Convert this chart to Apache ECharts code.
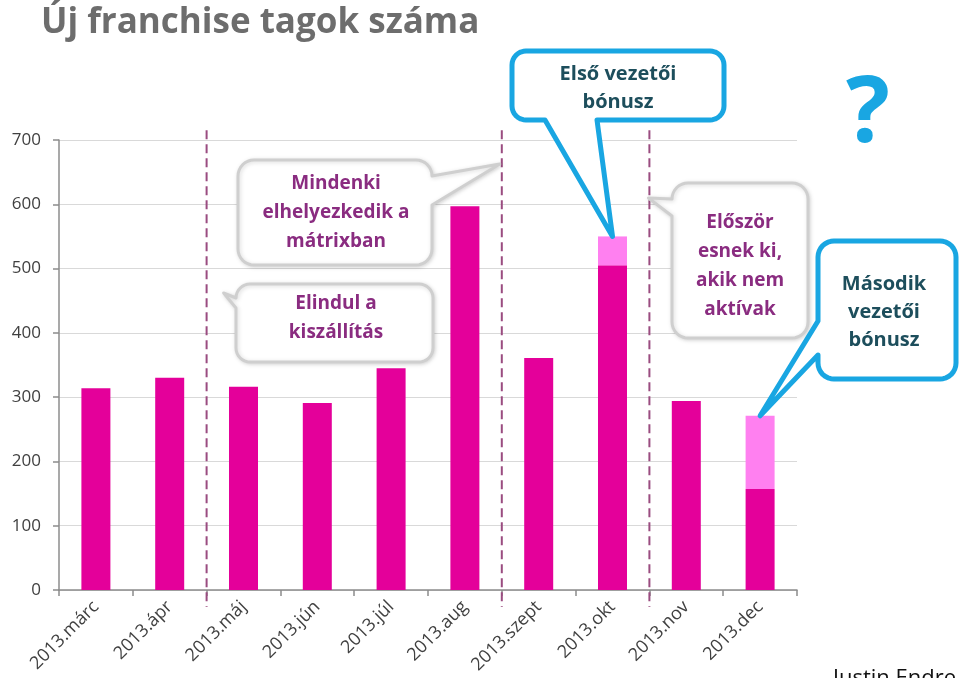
<!DOCTYPE html>
<html><head><meta charset="utf-8">
<script src="https://cdn.jsdelivr.net/npm/echarts@6/dist/echarts.min.js"></script>
<style>html,body{margin:0;padding:0;background:#fff}#c{width:960px;height:678px}</style>
</head><body><div id="c"></div>
<script>
// ---- data ----
const categories = ['2013.márc','2013.ápr','2013.máj','2013.jún','2013.júl','2013.aug','2013.szept','2013.okt','2013.nov','2013.dec'];
const newMembers = [314, 330, 316, 291, 345, 597, 361, 505, 294, 157];
const bonusMembers = ['-', '-', '-', '-', '-', '-', '-', 45, '-', 114];
const yMin = 0, yMax = 700, yInterval = 100;
const phaseStarts = [2, 6, 8]; // category index where a dashed divider sits before
const titleText = 'Új franchise tagok száma';
const note1 = 'Első vezetői\nbónusz';
const note2 = 'Második\nvezetői\nbónusz';
const note3 = 'Mindenki\nelhelyezkedik a\nmátrixban';
const note4 = 'Elindul a\nkiszállítás';
const note5 = 'Először\nesnek ki,\nakik nem\naktívak';
const author = 'Justin Endre';

const FONT = '"Open Sans", "DejaVu Sans", sans-serif';
const BLUE = '#19A6E2';
const chart = echarts.init(document.getElementById('c'), null, {renderer: 'canvas'});

chart.setOption({
  animation: false,
  title: {text: titleText, left: 36, top: 1,
    textStyle: {fontSize: 35, fontWeight: 'bold', color: '#6d6d6d', fontFamily: FONT}},
  grid: {left: 59, right: 163, top: 140, bottom: 88},
  xAxis: {
    type: 'category', data: categories, boundaryGap: true,
    axisLine: {lineStyle: {color: '#8c8c8c', width: 1.5}},
    axisTick: {show: true, length: 6, lineStyle: {color: '#8c8c8c', width: 1.5}},
    axisLabel: {rotate: 45, fontSize: 18, color: '#404040', fontFamily: FONT, margin: 14, interval: 0}
  },
  yAxis: {
    type: 'value', min: yMin, max: yMax, interval: yInterval,
    axisLine: {show: true, lineStyle: {color: '#8c8c8c', width: 1.5}},
    axisTick: {show: true, length: 6, lineStyle: {color: '#8c8c8c', width: 1.5}},
    axisLabel: {fontSize: 17, color: '#404040', fontFamily: FONT, margin: 18},
    splitLine: {lineStyle: {color: '#d9d9d9', width: 1}}
  },
  series: [
    {type: 'bar', stack: 'a', data: newMembers, barWidth: 29, itemStyle: {color: '#E4009A'}},
    {type: 'bar', stack: 'a', data: bonusMembers, barWidth: 29, itemStyle: {color: '#FF80F0'}}
  ]
});

// rounded-rect callout outline as polygon points (clockwise), with a tail on one edge
function calloutPoints(x, y, w, h, r, t) {
  const pts = [];
  const arc = (cx, cy, a0, a1) => {
    const n = 8;
    for (let k = 0; k <= n; k++) {
      const a = a0 + (a1 - a0) * k / n;
      pts.push([cx + r * Math.cos(a), cy + r * Math.sin(a)]);
    }
  };
  const tip = t.tip;
  const PI = Math.PI;
  pts.push([x + r, y]);
  if (t.edge === 'top') pts.push([t.a, y], tip, [t.b, y]);
  arc(x + w - r, y + r, -PI / 2, 0);
  if (t.edge === 'right') pts.push([x + w, t.a], tip, [x + w, t.b]);
  arc(x + w - r, y + h - r, 0, PI / 2);
  if (t.edge === 'bottom') pts.push([t.b, y + h], tip, [t.a, y + h]);
  arc(x + r, y + h - r, PI / 2, PI);
  if (t.edge === 'left') pts.push([x, t.b], tip, [x, t.a]);
  arc(x + r, y + r, PI, PI * 1.5);
  return pts;
}

function build() {
  const px = (i, v) => chart.convertToPixel({gridIndex: 0}, [i, v]);
  const g = [];
  const yTop = px(0, 715)[1];
  const yBot = px(0, 0)[1] + 17;
  phaseStarts.forEach(i => {
    const xb = (px(i - 1, 0)[0] + px(i, 0)[0]) / 2;
    g.push({type: 'line', z: 5, shape: {x1: xb, y1: yTop, x2: xb, y2: yBot},
      style: {stroke: '#9a4c80', lineWidth: 2, lineDash: [9, 5]}});
  });
  const sumTop = i => px(i, newMembers[i] + (bonusMembers[i] === '-' ? 0 : bonusMembers[i]));
  const tOkt = sumTop(7), tDec = sumTop(9);
  const grayStyle = {fill: '#fff', stroke: '#cfcfcf', lineWidth: 3, lineJoin: 'round',
    shadowBlur: 4, shadowColor: 'rgba(0,0,0,0.15)', shadowOffsetX: 1, shadowOffsetY: 1};
  const blueStyle = {fill: '#fff', stroke: BLUE, lineWidth: 5, lineJoin: 'round'};
  const xDiv1 = (px(5, 0)[0] + px(6, 0)[0]) / 2;
  const xDiv3 = (px(7, 0)[0] + px(8, 0)[0]) / 2;
  const xDiv0 = (px(1, 0)[0] + px(2, 0)[0]) / 2;
  const poly = (pts, style, z) => ({type: 'polygon', z: z, shape: {points: pts}, style: style});
  // gray callouts
  g.push(poly(calloutPoints(238, 160, 194, 105, 16,
    {edge: 'right', a: 176, b: 205, tip: [xDiv1 - 2, 164]}), grayStyle, 10));
  g.push(poly(calloutPoints(236, 284, 197, 78, 14,
    {edge: 'left', a: 298, b: 308, tip: [xDiv0 + 17, 293]}), grayStyle, 10));
  g.push(poly(calloutPoints(672, 183, 136, 155, 16,
    {edge: 'left', a: 199, b: 216, tip: [xDiv3 - 1, 198]}), grayStyle, 10));
  const purpleText = (txt, cx, cy) => ({type: 'text', z: 11, x: cx, y: cy,
    style: {text: txt, fill: '#8a2c80', font: 'bold 19px ' + FONT, align: 'center', verticalAlign: 'middle', lineHeight: 29}});
  g.push(purpleText(note3, 336, 213));
  g.push(purpleText(note4, 336, 318));
  g.push(purpleText(note5, 740, 266));
  // blue callouts
  g.push(poly(calloutPoints(512, 51, 212, 69, 14,
    {edge: 'bottom', a: 545, b: 597, tip: [tOkt[0], tOkt[1]]}), blueStyle, 12));
  g.push(poly(calloutPoints(818, 241, 138, 138, 16,
    {edge: 'left', a: 321, b: 355, tip: [tDec[0], tDec[1]]}), blueStyle, 12));
  const tealText = (txt, cx, cy) => ({type: 'text', z: 13, x: cx, y: cy,
    style: {text: txt, fill: '#1d4e5c', font: 'bold 20px ' + FONT, align: 'center', verticalAlign: 'middle', lineHeight: 28}});
  g.push(tealText(note1, 618, 88));
  g.push(tealText(note2, 884, 312));
  g.push({type: 'text', z: 13, x: 868, y: 116,
    style: {text: '?', fill: BLUE, font: 'bold 92px ' + FONT, align: 'center', verticalAlign: 'middle'}});
  g.push({type: 'text', z: 13, x: 833, y: 668,
    style: {text: author, fill: '#111', font: '22px ' + FONT, align: 'left', verticalAlign: 'top'}});
  chart.setOption({graphic: g});
}
build();
</script></body></html>
